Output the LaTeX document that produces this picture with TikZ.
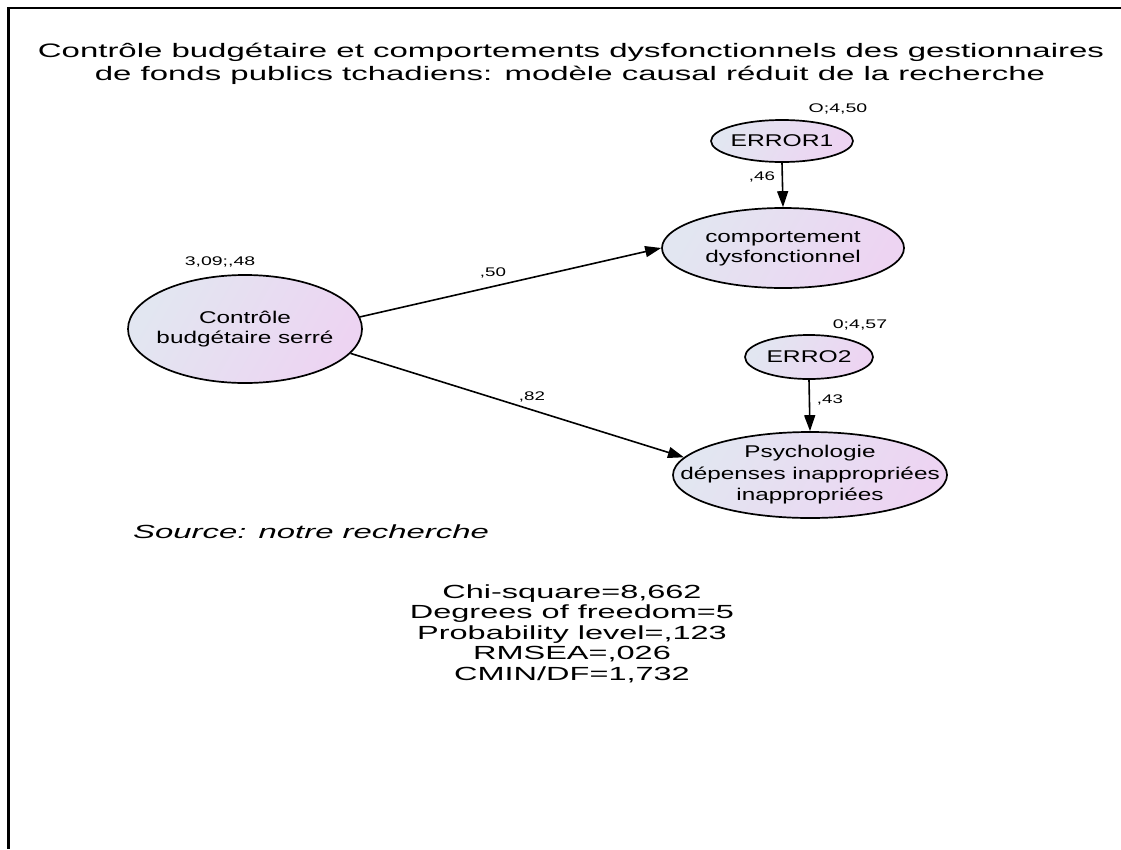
\documentclass[tikz,border=0pt]{standalone}
\usepackage{fontspec}
\setmainfont{Liberation Sans}
\usetikzlibrary{arrows.meta,shapes.geometric}
\definecolor{ellL}{RGB}{226,230,241}
\definecolor{ellR}{RGB}{237,212,242}
\newcommand{\fs}[2]{\fontsize{#1}{#2}\selectfont}
\newcommand{\sx}[2]{\scalebox{#1}[1]{#2}}
\begin{document}
\begin{tikzpicture}[x=1pt,y=-1pt,
  ell/.style={ellipse, draw=black, line width=1.7pt, left color=ellL, right color=ellR, shading angle=60, inner sep=0pt},
  txt/.style={inner sep=0pt, align=center},
  arr/.style={-{Triangle[length=16pt,width=11pt]}, line width=1.6pt},
  num/.style={inner sep=0pt, font=\fs{12.5}{14}},
  frame/.style={line width=2.2pt, black}]
\useasboundingbox (0,0) rectangle (1121,849);
% frame (top and left edges)
\coordinate (fTL) at (8.5,8);
\coordinate (fTR) at (1121,8);
\coordinate (fBL) at (8.5,849);
\draw[frame] (fTR) -- (fTL) -- (fBL);
% title
\node[txt, anchor=base] (title1) at (571,57) {\fs{19.5}{23}\sx{1.69}{Contrôle budgétaire et comportements dysfonctionnels des gestionnaires}};
\node[txt, anchor=base] (title2) at (570,80) {\fs{19.5}{23}\sx{1.69}{de fonds publics tchadiens: modèle causal réduit de la recherche}};
% ellipses
\node[ell, minimum width=234pt, minimum height=108pt] (ctrl) at (245,329) {};
\node[ell, minimum width=142pt, minimum height=42pt] (e1) at (782,141) {};
\node[ell, minimum width=242pt, minimum height=80pt] (comp) at (783,248) {};
\node[ell, minimum width=128pt, minimum height=44pt] (e2) at (809,357) {};
\node[ell, minimum width=274pt, minimum height=86pt] (psy) at (810,475) {};
% ellipse texts
\node[txt] (ctrlT) at (ctrl.center) {\fs{17}{20}\sx{1.43}{\begin{tabular}{@{}c@{}}Contrôle\\budgétaire serré\end{tabular}}};
\node[txt] (e1T) at (e1.center) {\fs{17}{20}\sx{1.45}{ERROR1}};
\node[txt] (compT) at (comp.center) {\fs{17}{20}\sx{1.43}{\begin{tabular}{@{}c@{}}comportement\\dysfonctionnel\end{tabular}}};
\node[txt] (e2T) at (e2.center) {\fs{17}{20}\sx{1.45}{ERRO2}};
\node[txt] (psyT) at (psy.center) {\fs{17}{21.5}\sx{1.43}{\begin{tabular}{@{}c@{}}Psychologie\\dépenses inappropriées\\inappropriées\end{tabular}}};
% arrows
\draw[arr] (ctrl.6) -- (comp.west);
\draw[arr] (ctrl.-13) -- (psy.172);
\draw[arr] (e1.south) -- (comp.north);
\draw[arr] (e2.south) -- (psy.north);
% numeric labels
\node[num] (l50) at (493,273) {\sx{1.5}{,50}};
\node[num] (l82) at (532,397) {\sx{1.5}{,82}};
\node[num] (l46) at (762,177) {\sx{1.5}{,46}};
\node[num] (l43) at (830,400) {\sx{1.5}{,43}};
\node[num] (lctrl) at (220,262) {\sx{1.56}{3,09;,48}};
\node[num] (le1) at (838,109) {\sx{1.56}{O;4,50}};
\node[num] (le2) at (860,325) {\sx{1.56}{0;4,57}};
% source
\node[txt, anchor=base west] (src) at (133,538) {\fs{19}{22}\sx{1.73}{\itshape Source: notre recherche}};
% statistics
\node[txt, anchor=base] (s1) at (572,598) {\fs{19}{22}\sx{1.71}{Chi-square=8,662}};
\node[txt, anchor=base] (s2) at (572,618.5) {\fs{19}{22}\sx{1.71}{Degrees of freedom=5}};
\node[txt, anchor=base] (s3) at (572,639) {\fs{19}{22}\sx{1.71}{Probability level=,123}};
\node[txt, anchor=base] (s4) at (572,659.5) {\fs{19}{22}\sx{1.71}{RMSEA=,026}};
\node[txt, anchor=base] (s5) at (572,680) {\fs{19}{22}\sx{1.71}{CMIN/DF=1,732}};
\end{tikzpicture}
\end{document}
